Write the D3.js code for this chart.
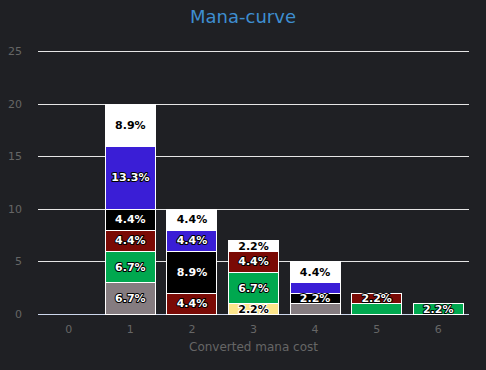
<!DOCTYPE html>
<html>
<head>
<meta charset="utf-8">
<script src="https://cdn.jsdelivr.net/npm/d3@7"></script>
<style>
  html, body { margin: 0; padding: 0; background: #1f2024; }
  svg { display: block; font-family: "DejaVu Sans", Verdana, sans-serif; }
  .data-label { font-size: 11px; font-weight: bold; paint-order: stroke; stroke-width: 2px; stroke-linejoin: round; }
</style>
</head>
<body>
<div id="chart"></div>
<script>
// Mana-curve data: card counts per colour for each converted mana cost
const costs = ['0', '1', '2', '3', '4', '5', '6'];
const colourNames = ['Colorless', 'Multicolor', 'Green', 'Red', 'Black', 'Blue', 'White'];
const colourFills = ['#857c80', '#fde58a', '#00a84f', '#7a0a05', '#000000', '#3a1ed6', '#ffffff'];
const colorless = [0, 3, 0, 0, 1, 0, 0];
const multi     = [0, 0, 0, 1, 0, 0, 0];
const green     = [0, 3, 0, 3, 0, 1, 1];
const red       = [0, 2, 2, 2, 0, 1, 0];
const black     = [0, 2, 4, 0, 1, 0, 0];
const blue      = [0, 6, 2, 0, 1, 0, 0];
const white     = [0, 4, 2, 1, 2, 0, 0];
const yTicks = [0, 5, 10, 15, 20, 25];
// labels the chart dropped because they overlapped a neighbour: [cost, colour]
const hiddenLabels = [['4', 'Blue'], ['4', 'Colorless'], ['5', 'Green']];

const series = [colorless, multi, green, red, black, blue, white];

const config = {
  width: 486,
  height: 370,
  margin: { top: 51, right: 17, bottom: 56, left: 38 }
};
const innerW = config.width - config.margin.left - config.margin.right;
const innerH = config.height - config.margin.top - config.margin.bottom;

const total = d3.sum(series, s => d3.sum(s));

const svg = d3.select('#chart').append('svg')
  .attr('width', config.width)
  .attr('height', config.height);

svg.append('rect')
  .attr('width', config.width)
  .attr('height', config.height)
  .attr('fill', '#1f2024');

svg.append('text')
  .attr('x', config.width / 2)
  .attr('y', 23)
  .attr('text-anchor', 'middle')
  .attr('fill', '#3e8ed0')
  .style('font-size', '18px')
  .text('Mana-curve');

const chart = svg.append('g')
  .attr('transform', `translate(${config.margin.left},${config.margin.top})`);

const x = d3.scaleBand().domain(costs).range([0, innerW]).paddingInner(0.17).paddingOuter(0.085);
const xCat = d3.scaleBand().domain(costs).range([0, innerW]);
const y = d3.scaleLinear().domain([0, 25]).range([innerH, 0]);

// gridlines
chart.selectAll('.grid')
  .data(yTicks)
  .join('line')
  .attr('x1', 0)
  .attr('x2', innerW)
  .attr('y1', d => Math.round(y(d)) + 0.5)
  .attr('y2', d => Math.round(y(d)) + 0.5)
  .attr('stroke', d => d === 0 ? '#ccd6eb' : '#e6e6e6')
  .attr('stroke-width', 1);

// y tick labels
chart.selectAll('.ylab')
  .data(yTicks)
  .join('text')
  .attr('x', -16)
  .attr('y', d => y(d) + 4)
  .attr('text-anchor', 'end')
  .attr('fill', '#666666')
  .style('font-size', '11px')
  .text(d => d);

// x tick labels
chart.selectAll('.xlab')
  .data(costs)
  .join('text')
  .attr('x', d => xCat(d) + xCat.bandwidth() / 2)
  .attr('y', innerH + 19)
  .attr('text-anchor', 'middle')
  .attr('fill', '#666666')
  .style('font-size', '11px')
  .text(d => d);

chart.append('text')
  .attr('x', innerW / 2)
  .attr('y', innerH + 37)
  .attr('text-anchor', 'middle')
  .attr('fill', '#666666')
  .style('font-size', '12px')
  .text('Converted mana cost');

// stack
const rows = costs.map((c, i) => {
  const row = { cost: c };
  colourNames.forEach((n, k) => { row[n] = series[k][i]; });
  return row;
});
const stacked = d3.stack().keys(colourNames)(rows);

const segments = [];
stacked.forEach((layer, k) => {
  layer.forEach((d, i) => {
    if (d[1] - d[0] > 0) {
      segments.push({ k, cost: costs[i], y0: d[0], y1: d[1], value: d[1] - d[0] });
    }
  });
});

chart.selectAll('.seg')
  .data(segments)
  .join('rect')
  .attr('x', d => Math.round(x(d.cost)) + 0.5)
  .attr('y', d => Math.round(y(d.y1)) + 0.5)
  .attr('width', Math.round(x.bandwidth()) - 1)
  .attr('height', d => Math.round(y(d.y0)) - Math.round(y(d.y1)))
  .attr('fill', d => colourFills[d.k])
  .attr('stroke', '#ffffff')
  .attr('stroke-width', 1);

const shown = segments.filter(s =>
  !hiddenLabels.some(([c, n]) => c === s.cost && n === colourNames[s.k]));

const light = k => k === 1 || k === 6;
chart.selectAll('.data-label')
  .data(shown)
  .join('text')
  .attr('class', 'data-label')
  .attr('x', d => x(d.cost) + x.bandwidth() / 2)
  .attr('y', d => y((d.y0 + d.y1) / 2) + 4)
  .attr('text-anchor', 'middle')
  .attr('fill', d => light(d.k) ? '#000000' : '#ffffff')
  .attr('stroke', d => light(d.k) ? '#ffffff' : '#000000')
  .text(d => `${(d.value / total * 100).toFixed(1)}%`);
</script>
</body>
</html>
